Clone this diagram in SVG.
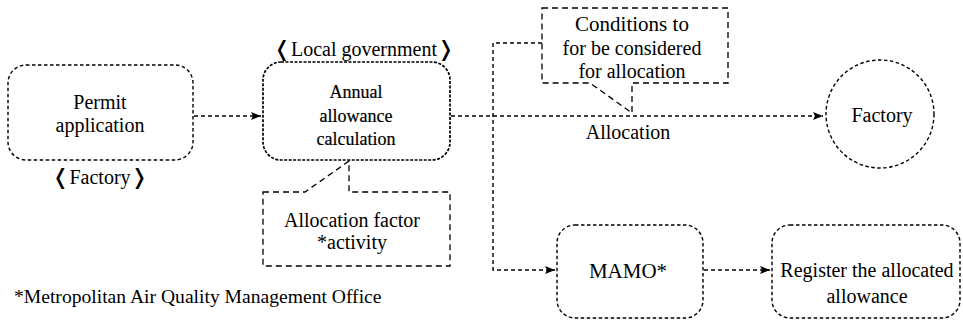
<svg xmlns="http://www.w3.org/2000/svg" width="963" height="322" viewBox="0 0 963 322">
<defs>
<marker id="ah" viewBox="0 0 10 8" refX="10" refY="4" markerWidth="10" markerHeight="8" markerUnits="userSpaceOnUse" orient="auto">
<path d="M0,0 L10,4 L0,8 L2,4 Z" fill="#000"/>
</marker>
</defs>
<style>
.rb{fill:none;stroke:#000;stroke-width:1.4;stroke-dasharray:3.5 2.5}
.cb{fill:none;stroke:#000;stroke-width:1.3;stroke-dasharray:6 4}
.cn{fill:none;stroke:#000;stroke-width:1.4;stroke-dasharray:4 3}
.br{font-family:'DejaVu Sans',sans-serif;font-weight:bold;font-size:21px}
</style>
<rect width="963" height="322" fill="#fff"/>
<g id="connectors">
<line class="cn" x1="194" y1="116" x2="261" y2="116" marker-end="url(#ah)"/>
<line class="cn" x1="451" y1="116" x2="823" y2="116" marker-end="url(#ah)"/>
<polyline class="cn" points="542,43 493,43 493,270 555,270" marker-end="url(#ah)"/>
<line class="cn" x1="704" y1="270" x2="770" y2="270" marker-end="url(#ah)"/>
</g>
<g font-family="Liberation Serif, Times New Roman, serif" font-size="20" text-anchor="middle" fill="#000">
<g id="permit">
<rect class="rb" x="8" y="65" width="185" height="95" rx="18"/>
<text x="100" y="109">Permit</text>
<text x="100" y="132">application</text>
</g>
<text x="100" y="184"><tspan class="br">❬</tspan>Factory<tspan class="br">❭</tspan></text>
<g id="annual">
<rect class="rb" x="263" y="62" width="187" height="98" rx="18" style="stroke-width:1.7;stroke-dasharray:3 1.5"/>
<g font-size="18" stroke="#000" stroke-width="0.2">
<text x="356" y="98">Annual</text>
<text x="356" y="122">allowance</text>
<text x="356" y="145">calculation</text>
</g>
</g>
<text x="364" y="56"><tspan class="br">❬</tspan>Local government<tspan class="br">❭</tspan></text>
<g id="conditions">
<path class="cb" d="M542,8 H728 V83 H632 V113 L590,83 H542 Z"/>
<text x="632" y="31" font-size="21">Conditions to</text>
<text x="632" y="55">for be considered</text>
<text x="632" y="78">for allocation</text>
</g>
<text x="628" y="139">Allocation</text>
<g id="factory">
<circle class="rb" cx="880" cy="114" r="54"/>
<text x="882" y="122">Factory</text>
</g>
<g id="factor">
<path class="cb" d="M263,192 H305 L349,161 V192 H450 V266 H263 Z"/>
<text x="352" y="227">Allocation factor</text>
<text x="352" y="249">*activity</text>
</g>
<g id="mamo">
<rect class="rb" x="557" y="225" width="146" height="93" rx="18"/>
<text x="628" y="278" font-size="21">MAMO*</text>
</g>
<g id="register">
<rect class="rb" x="772" y="225" width="188" height="93" rx="18"/>
<text x="867" y="277">Register the allocated</text>
<text x="867" y="303">allowance</text>
</g>
<text x="14" y="303" text-anchor="start" font-size="19.6">*Metropolitan Air Quality Management Office</text>
</g>
</svg>
